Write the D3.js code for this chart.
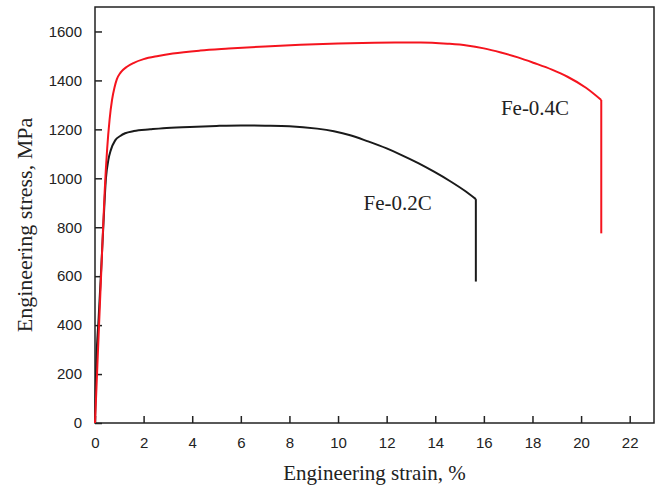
<!DOCTYPE html>
<html>
<head>
<meta charset="utf-8">
<script src="https://cdn.jsdelivr.net/npm/d3@7"></script>
<style>
  body { margin: 0; background: #fff; }
  .tick text { font-family: "Liberation Sans", Arial, sans-serif; font-size: 15px; fill: #222; }
  .axis-title, .curve-label { font-family: "Liberation Serif", "Times New Roman", serif; fill: #222; }
</style>
</head>
<body>
<div id="chart"></div>
<script>
var svgWidth = 657;
var svgHeight = 485;

var margin = { top: 7, right: 3, bottom: 62, left: 95 };
var width = svgWidth - margin.left - margin.right;
var height = svgHeight - margin.top - margin.bottom;

// Fe-0.2C (black) curve, strain in %, stress in MPa
var strain02 = [0, 0.05, 0.15, 0.25, 0.35, 0.45, 0.55, 0.65, 0.83, 1.04, 1.24, 1.6, 2.27, 2.8, 3.9, 5, 6, 7, 8, 9.14, 9.83, 10.5, 11.2, 12, 12.57, 13.3, 13.95, 14.6, 15.2, 15.67];
var stress02 = [0, 230, 430, 620, 820, 1000, 1075, 1115, 1155, 1173, 1184, 1193, 1200, 1205, 1210, 1214, 1216, 1215, 1213, 1203, 1192, 1176, 1152, 1122, 1097, 1062, 1027, 989, 950, 915];
// fracture drop
var dropStrain02 = [15.67, 15.67];
var dropStress02 = [915, 578];

// Fe-0.4C (red) curve
var strain04 = [0, 0.1, 0.2, 0.3, 0.4, 0.5, 0.6, 0.7, 0.8, 0.9, 1.05, 1.3, 1.6, 2.0, 2.6, 3.2, 4.33, 5.5, 7, 8.45, 10, 11.5, 12.6, 13.4, 14.5, 15.3, 16, 16.7, 17.4, 18.07, 18.8, 19.44, 20.2, 20.83];
var stress04 = [0, 240, 480, 720, 950, 1120, 1240, 1320, 1370, 1405, 1432, 1455, 1472, 1487, 1500, 1510, 1522, 1530, 1539, 1546, 1551, 1554, 1555, 1555, 1550, 1543, 1531, 1514, 1494, 1471, 1444, 1415, 1370, 1320];
var dropStrain04 = [20.83, 20.83];
var dropStress04 = [1320, 775];

var xTicks = [0, 2, 4, 6, 8, 10, 12, 14, 16, 18, 20, 22];
var yTicks = [0, 200, 400, 600, 800, 1000, 1200, 1400, 1600];

var svg = d3.select("#chart")
    .append("svg")
    .attr("width", svgWidth)
    .attr("height", svgHeight);

var chartGroup = svg.append("g")
    .attr("transform", `translate(${margin.left}, ${margin.top})`);

var xScale = d3.scaleLinear().domain([0, 23]).range([0, width]);
var yScale = d3.scaleLinear().domain([0, 1700]).range([height, 0]);

// axes with inward ticks
var bottomAxis = d3.axisBottom(xScale)
    .tickValues(xTicks)
    .tickFormat(d3.format("d"))
    .tickSizeInner(-7)
    .tickSizeOuter(0)
    .tickPadding(14);

var leftAxis = d3.axisLeft(yScale)
    .tickValues(yTicks)
    .tickFormat(d3.format("d"))
    .tickSizeInner(-7)
    .tickSizeOuter(0)
    .tickPadding(13);

var xAxis = chartGroup.append("g")
    .attr("transform", `translate(0, ${height})`)
    .call(bottomAxis);

var yAxis = chartGroup.append("g")
    .call(leftAxis);

[xAxis, yAxis].forEach(function(ax) {
    ax.select(".domain").remove();
    ax.selectAll(".tick line").attr("stroke", "#222").attr("stroke-width", 1.5);
});

// frame
chartGroup.append("rect")
    .attr("x", 0)
    .attr("y", 0)
    .attr("width", width)
    .attr("height", height)
    .attr("fill", "none")
    .attr("stroke", "#222")
    .attr("stroke-width", 1.5);

function toPoints(xs, ys) {
    return xs.map((x, i) => [x, ys[i]]);
}

var curveLine = d3.line()
    .x(d => xScale(d[0]))
    .y(d => yScale(d[1]))
    .curve(d3.curveMonotoneX);

var straightLine = d3.line()
    .x(d => xScale(d[0]))
    .y(d => yScale(d[1]));

var series = [
    { main: toPoints(strain02, stress02), drop: toPoints(dropStrain02, dropStress02), color: "#1a1a1a" },
    { main: toPoints(strain04, stress04), drop: toPoints(dropStrain04, dropStress04), color: "#f5141e" }
];

series.forEach(function(s) {
    chartGroup.append("path")
        .attr("d", curveLine(s.main))
        .attr("fill", "none")
        .attr("stroke", s.color)
        .attr("stroke-width", 2);
    chartGroup.append("path")
        .attr("d", straightLine(s.drop))
        .attr("fill", "none")
        .attr("stroke", s.color)
        .attr("stroke-width", 2);
});

// curve labels
chartGroup.append("text")
    .attr("class", "curve-label")
    .attr("x", xScale(11.05))
    .attr("y", yScale(872))
    .style("font-size", "21px")
    .text("Fe-0.2C");

chartGroup.append("text")
    .attr("class", "curve-label")
    .attr("x", xScale(16.7))
    .attr("y", yScale(1260))
    .style("font-size", "21px")
    .text("Fe-0.4C");

// axis titles
svg.append("text")
    .attr("class", "axis-title")
    .attr("x", margin.left + width / 2)
    .attr("y", 480)
    .attr("text-anchor", "middle")
    .style("font-size", "21px")
    .text("Engineering strain, %");

svg.append("text")
    .attr("class", "axis-title")
    .attr("transform", "rotate(-90)")
    .attr("x", -225)
    .attr("y", 32)
    .attr("text-anchor", "middle")
    .style("font-size", "22px")
    .text("Engineering stress, MPa");
</script>
</body>
</html>
